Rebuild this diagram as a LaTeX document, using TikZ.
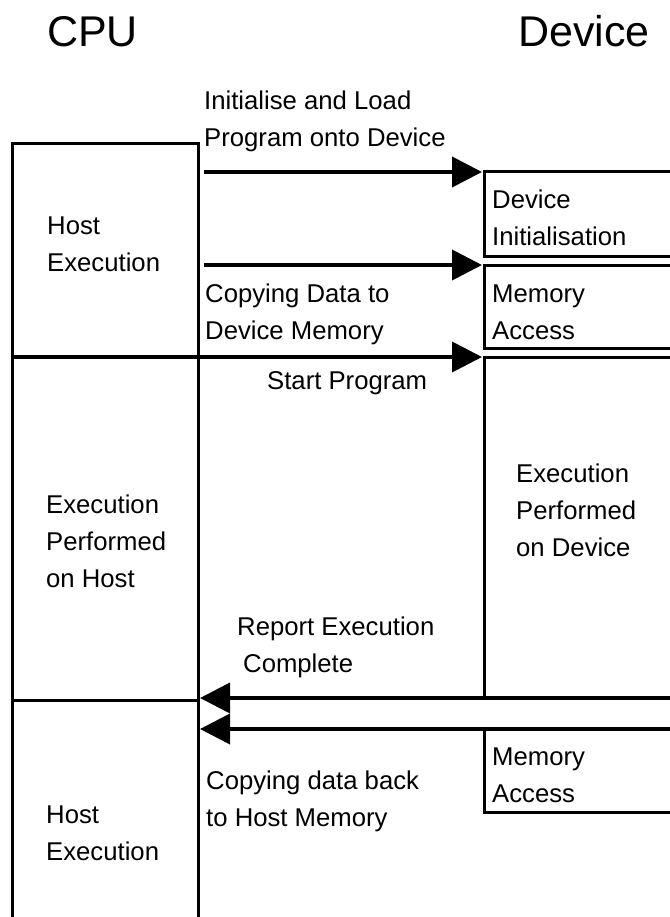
\documentclass[tikz,border=0pt]{standalone}
\usepackage{fontspec}
\setmainfont{Liberation Sans}
\usetikzlibrary{arrows.meta}
\begin{document}
\begin{tikzpicture}[x=1pt,y=-1pt,
  boxline/.style={line width=3pt,line cap=rect},
  msg/.style={line width=3.8pt,-{Triangle[length=30pt,width=30pt]}},
  lbl/.style={anchor=base west,inner sep=0pt,align=left,font=\fontsize{25.7}{37}\selectfont},
  head/.style={anchor=base west,inner sep=0pt,font=\fontsize{43}{50}\selectfont}]
\useasboundingbox[fill=white] (0,0) rectangle (669,917);
% headings
\node[head] (cpu) at (47,47) {CPU};
\node[head] (dev) at (518,47) {Device};
% coordinates
\coordinate (cTL) at (12,144);
\coordinate (cTR) at (198,144);
\coordinate (cBL) at (12,920);
\coordinate (cBR) at (198,920);
\coordinate (cD1L) at (12,357);
\coordinate (cD2L) at (12,700);
\coordinate (cD2R) at (198,700);
% CPU column
\draw[boxline] (cBL) -- (cTL) -- (cTR) -- (cBR);
\draw[boxline] (cD2L) -- (cD2R);
% device boxes
\coordinate (iTR) at (672,172); \coordinate (iTL) at (484,172);
\coordinate (iBL) at (484,256); \coordinate (iBR) at (672,256);
\coordinate (mTR) at (672,265); \coordinate (mTL) at (484,265);
\coordinate (mBL) at (484,348); \coordinate (mBR) at (672,348);
\coordinate (eTR) at (672,357); \coordinate (eTL) at (484,357);
\coordinate (eBL) at (484,698); \coordinate (eBR) at (672,698);
\coordinate (nTR) at (672,729); \coordinate (nTL) at (484,729);
\coordinate (nBL) at (484,812); \coordinate (nBR) at (672,812);
\draw[boxline] (iTR) -- (iTL) -- (iBL) -- (iBR);
\draw[boxline] (mTR) -- (mTL) -- (mBL) -- (mBR);
\draw[boxline] (eTR) -- (eTL) -- (eBL);
\draw[boxline] (nTR) -- (nTL) -- (nBL) -- (nBR);
% messages
\coordinate (a1s) at (204,172); \coordinate (a1e) at (482,172);
\coordinate (a2s) at (204,265); \coordinate (a2e) at (482,265);
\coordinate (a3e) at (482,357);
\coordinate (a4e) at (200,698);
\coordinate (a5e) at (200,729);
\draw[msg] (a1s) -- (a1e);
\draw[msg] (a2s) -- (a2e);
\draw[msg] (cD1L) -- (a3e);
\draw[msg] (eBR) -- (a4e);
\draw[msg] (nTR) -- (a5e);
% labels (base = last line)
\node[lbl] (load) at (204,147) {Initialise and Load\\Program onto Device};
\node[lbl] (host1) at (47,271) {Host\\Execution};
\node[lbl] (init) at (492,245) {Device\\Initialisation};
\node[lbl] (copy1) at (205,339) {Copying Data to\\Device Memory};
\node[lbl] (mem1) at (492,339) {Memory\\Access};
\node[lbl] (start) at (267,389) {Start Program};
\node[lbl] (exhost) at (46,587) {Execution\\Performed\\on Host};
\node[lbl] (exdev) at (516,556) {Execution\\Performed\\on Device};
\node[lbl] (report) at (237,672) {Report Execution\\\hspace*{6pt}Complete};
\node[lbl] (copy2) at (206,826) {Copying data back\\to Host Memory};
\node[lbl] (mem2) at (492,802) {Memory\\Access};
\node[lbl] (host2) at (46,860) {Host\\Execution};
\end{tikzpicture}
\end{document}
